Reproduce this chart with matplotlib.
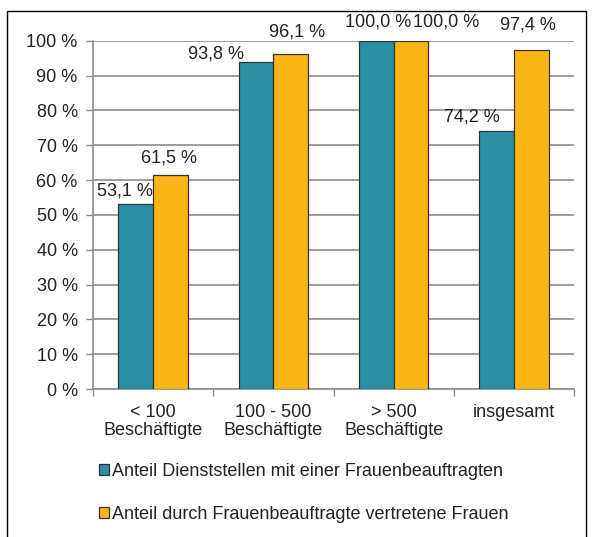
import matplotlib
matplotlib.use("Agg")
import matplotlib.pyplot as plt
from matplotlib.patches import Rectangle, Patch
import numpy as np

plt.rcParams['font.family'] = ['Liberation Sans', 'DejaVu Sans']

categories = ["< 100\nBeschäftigte", "100 - 500\nBeschäftigte", "> 500\nBeschäftigte", "insgesamt"]
series_names = ["Anteil Dienststellen mit einer Frauenbeauftragten",
                "Anteil durch Frauenbeauftragte vertretene Frauen"]
dienststellen = [53.1, 93.8, 100.0, 74.2]
frauen = [61.5, 96.1, 100.0, 97.4]
yticks = [0, 10, 20, 30, 40, 50, 60, 70, 80, 90, 100]

teal = "#2A8FA3"
yellow = "#FCB516"
edge = "#333333"
grid_col = "#8c8c8c"
txt = "#222222"
fs = 13

# label offsets in pixels (dx, dy)
off_teal = [(-11, 13), (-40, 8), (2, 19), (-25, 14)]
off_yel = [(-2, 17), (6, 22), (35, 19), (-3, 25)]

W, H = 593, 537
fig = plt.figure(figsize=(W / 100, H / 100), dpi=100)
ax = fig.add_axes([93 / W, 1 - 389 / H, (574 - 93) / W, (389 - 40.7) / H])

x = np.arange(len(categories))
bw = 0.29
b1 = ax.bar(x - bw / 2, dienststellen, bw, color=teal, edgecolor=edge, linewidth=0.9, zorder=3)
b2 = ax.bar(x + bw / 2, frauen, bw, color=yellow, edgecolor=edge, linewidth=0.9, zorder=3)

ax.set_xlim(-0.5, len(categories) - 0.5)
ax.set_ylim(0, 100)
ax.set_yticks(yticks)
ax.set_yticklabels([f"{t} %" for t in yticks], fontsize=fs, color=txt)
ax.yaxis.grid(True, color=grid_col, linewidth=1.2, zorder=0)
ax.set_axisbelow(True)

ax.set_xticks(x)
ax.set_xticklabels(categories, fontsize=fs, color=txt, linespacing=1.05)
ax.tick_params(axis='x', which='major', length=0, pad=11)
ax.set_xticks(np.arange(len(categories) + 1) - 0.5, minor=True)
ax.tick_params(axis='x', which='minor', length=5, color=grid_col, width=1)
ax.tick_params(axis='y', length=5, color=grid_col, width=1, pad=6)

for s in ['top', 'right']:
    ax.spines[s].set_visible(False)
for s in ['left', 'bottom']:
    ax.spines[s].set_color(grid_col)
    ax.spines[s].set_linewidth(1.2)

for i, (bar, v) in enumerate(zip(b1, dienststellen)):
    ax.annotate(f"{v:.1f} %".replace(".", ","), (bar.get_x() + bar.get_width() / 2, v),
                xytext=off_teal[i], textcoords='offset pixels', ha='center', va='center',
                fontsize=fs, color=txt)
for i, (bar, v) in enumerate(zip(b2, frauen)):
    ax.annotate(f"{v:.1f} %".replace(".", ","), (bar.get_x() + bar.get_width() / 2, v),
                xytext=off_yel[i], textcoords='offset pixels', ha='center', va='center',
                fontsize=fs, color=txt)

handles = [Patch(facecolor=teal, edgecolor=edge, linewidth=0.9),
           Patch(facecolor=yellow, edgecolor=edge, linewidth=0.9)]
fig.legend(handles, series_names, loc='upper left', bbox_to_anchor=(99 / W, 1 - 463 / H),
           frameon=False, fontsize=fs, handlelength=0.55, handleheight=0.55,
           handletextpad=0.15, labelspacing=1.45, borderaxespad=0, borderpad=0,
           labelcolor=txt)

fig.patches.append(Rectangle((7 / W, -0.05), (586 - 7) / W, 1.05 - 11 / H,
                             transform=fig.transFigure, fill=False,
                             edgecolor="#000000", linewidth=1.0))

fig.savefig("out.png", dpi=100, facecolor="white")
